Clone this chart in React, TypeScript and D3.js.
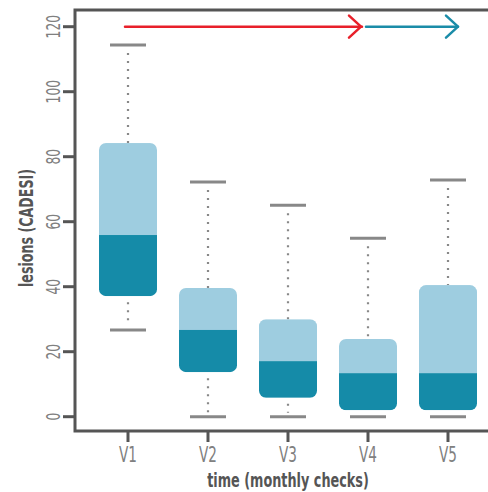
import React from "react";
import * as d3 from "d3";

const visits = ["V1", "V2", "V3", "V4", "V5"];
const whiskerLow = [26.7, 0, 0, 0, 0];
const q1 = [37.1, 13.7, 5.8, 2, 2];
const median = [55.9, 26.7, 17.1, 13.4, 13.4];
const q3 = [84.2, 39.6, 30, 23.9, 40.5];
const whiskerHigh = [114.4, 72.2, 65.1, 54.9, 72.8];
const yTicks = [0, 20, 40, 60, 80, 100, 120];

const width = 488;
const height = 492;
const margin = { top: 10, right: 0, bottom: 61, left: 75 };

const font = "'Liberation Sans Narrow', 'DejaVu Sans Condensed', sans-serif";
const lightBlue = "#9ecde0";
const darkBlue = "#158ba8";
const grey = "#888";
const axisColor = "#555";

export default function App() {
  const plotBottom = height - margin.bottom;

  const x = d3.scalePoint().domain(visits).range([128, 448]);
  const y = d3.scaleLinear().domain([0, 120]).range([416.7, 26.7]);

  const boxW = 58;
  const capW = 36;

  const boxes = visits.map((v, i) => ({
    v,
    cx: x(v),
    lo: whiskerLow[i],
    q1: q1[i],
    med: median[i],
    q3: q3[i],
    hi: whiskerHigh[i],
  }));

  const arrowY = y(120);

  return (
    <svg
      width={width}
      height={height}
      style={{ position: "absolute", left: 0, top: 0 }}
      fontFamily={font}
    >
      <defs>
        {boxes.map((b, i) => (
          <clipPath id={`clip${i}`} key={b.v}>
            <rect
              x={b.cx - boxW / 2}
              y={y(b.q3)}
              width={boxW}
              height={y(b.q1) - y(b.q3)}
              rx={7}
            />
          </clipPath>
        ))}
      </defs>

      {/* arrows */}
      <g fill="none" strokeWidth={2.5} strokeLinecap="round" strokeLinejoin="round">
        <line x1={x("V1")! - 3} x2={x("V4")! - 6} y1={arrowY} y2={arrowY} stroke="#e8202a" />
        <polyline
          points={`${x("V4")! - 19},${arrowY - 11} ${x("V4")! - 7},${arrowY} ${x("V4")! - 19},${arrowY + 11}`}
          stroke="#e8202a"
        />
        <line x1={x("V4")! - 2} x2={x("V5")! + 10} y1={arrowY} y2={arrowY} stroke="#1a8ca8" />
        <polyline
          points={`${x("V5")! - 2},${arrowY - 11} ${x("V5")! + 10},${arrowY} ${x("V5")! - 2},${arrowY + 11}`}
          stroke="#1a8ca8"
        />
      </g>

      {/* boxes */}
      {boxes.map((b, i) => (
        <g key={b.v}>
          <line
            x1={b.cx}
            x2={b.cx}
            y1={y(b.hi) + 8}
            y2={y(b.q3)}
            stroke={grey}
            strokeWidth={2.2}
            strokeDasharray="2 6"
          />
          <line
            x1={b.cx}
            x2={b.cx}
            y1={y(b.q1)}
            y2={y(b.lo) - 4}
            stroke={grey}
            strokeWidth={2.2}
            strokeDasharray="2 6"
            strokeDashoffset={-6}
          />
          <line x1={b.cx - capW / 2} x2={b.cx + capW / 2} y1={y(b.hi)} y2={y(b.hi)} stroke={grey} strokeWidth={3} />
          <line x1={b.cx - capW / 2} x2={b.cx + capW / 2} y1={y(b.lo)} y2={y(b.lo)} stroke={grey} strokeWidth={3} />
          <g clipPath={`url(#clip${i})`}>
            <rect x={b.cx - boxW / 2} y={y(b.q3)} width={boxW} height={y(b.med) - y(b.q3)} fill={lightBlue} />
            <rect x={b.cx - boxW / 2} y={y(b.med)} width={boxW} height={y(b.q1) - y(b.med)} fill={darkBlue} />
          </g>
        </g>
      ))}

      {/* frame */}
      <path
        d={`M${width},${margin.top} H${margin.left} V${plotBottom} H${width}`}
        fill="none"
        stroke={axisColor}
        strokeWidth={3}
      />

      {/* y axis ticks */}
      {yTicks.map((t) => (
        <g key={t}>
          <line x1={63} x2={margin.left} y1={y(t)} y2={y(t)} stroke={axisColor} strokeWidth={3} />
          <g transform={`translate(60,${y(t)}) rotate(-90) scale(0.72,1)`}>
            <text textAnchor="middle" fontSize={19} fill="#808080">
              {t}
            </text>
          </g>
        </g>
      ))}

      {/* x axis ticks */}
      {visits.map((v) => (
        <g key={v}>
          <line x1={x(v)} x2={x(v)} y1={plotBottom} y2={plotBottom + 11} stroke={axisColor} strokeWidth={3} />
          <g transform={`translate(${x(v)},${plotBottom + 31}) scale(0.72,1)`}>
            <text textAnchor="middle" fontSize={21} fill="#808080">
              {v}
            </text>
          </g>
        </g>
      ))}

      {/* titles */}
      <g transform={`translate(288,487) scale(0.75,1)`}>
        <text textAnchor="middle" fontSize={19} fontWeight="bold" fill="#555">
          time (monthly checks)
        </text>
      </g>
      <g transform={`translate(33,228) rotate(-90) scale(0.74,1)`}>
        <text textAnchor="middle" fontSize={19} fontWeight="bold" fill="#555">
          lesions (CADESI)
        </text>
      </g>
    </svg>
  );
}
